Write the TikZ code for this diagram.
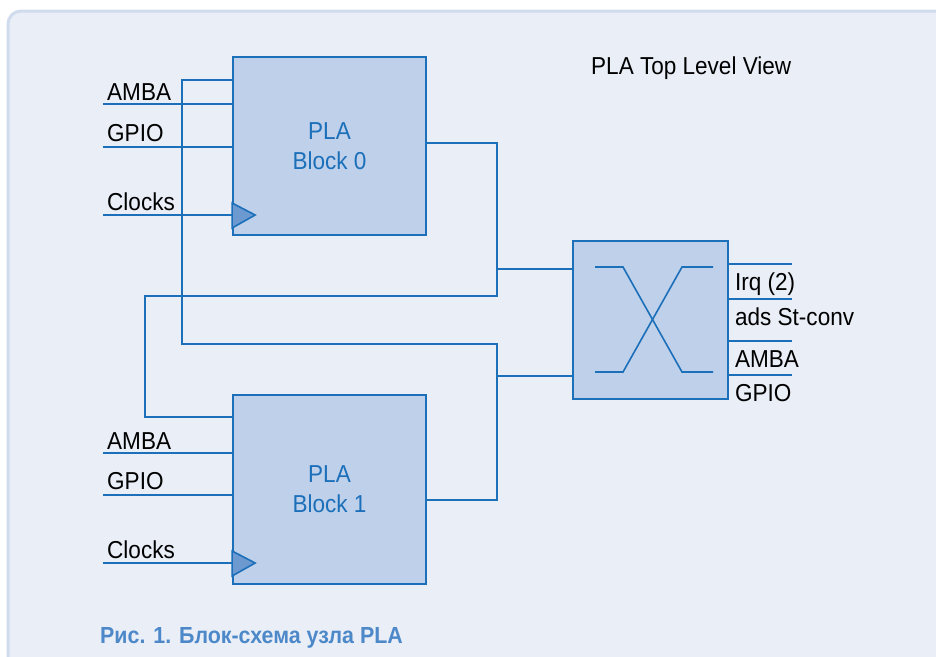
\documentclass[tikz,border=0pt]{standalone}
\usepackage{fontspec}
\setmainfont{Liberation Sans}[FakeStretch=0.92]
\usetikzlibrary{positioning,calc}
\definecolor{panelbg}{HTML}{E9EEF7}
\definecolor{panelrim}{HTML}{D0DBEE}
\definecolor{blkfill}{HTML}{BED0EA}
\definecolor{wireblue}{HTML}{1C6FB9}
\definecolor{clkfill}{HTML}{6C9AD0}
\definecolor{capblue}{HTML}{4D88C9}
\tikzset{
  wire/.style={draw=wireblue,line width=1.8pt},
  plablock/.style={
    rectangle,
    draw=wireblue,
    line width=1.8pt,
    fill=blkfill,
    minimum width=193pt,
    minimum height=178pt,
    align=center,
    text=wireblue,
    font=\fontsize{24.5}{30}\selectfont
  },
  muxbox/.style={
    rectangle,
    draw=wireblue,
    line width=1.8pt,
    fill=blkfill,
    minimum width=155pt,
    minimum height=158pt
  },
  lbl/.style={
    anchor=base west,
    inner sep=0pt,
    text=black,
    font=\fontsize{24.5}{28}\selectfont
  }
}

\begin{document}
\begin{tikzpicture}[x=1pt,y=-1pt,>=latex]
\useasboundingbox (0,0) rectangle (936,656);
\clip (0,0) rectangle (936,656);
\fill[white] (0,0) rectangle (936,656);
\draw[panelrim,fill=panelbg,line width=3pt,rounded corners=13pt]
  (8,11) rectangle (990,720);

\node[plablock] (blk0) at (329.5,146) {PLA\\Block 0};
\node[plablock,minimum height=189pt] (blk1) at (329.5,489.5) {PLA\\Block 1};
\node[muxbox] (mux) at (650.5,320) {};

\node[lbl] (title) at (591,74) {PLA Top Level View};

% inputs of both blocks
\foreach \b/\ya/\yg/\yc in {0/104/147/215, 1/453/495/563}{
  \coordinate (amba\b) at (103,\ya);
  \coordinate (gpio\b) at (103,\yg);
  \coordinate (clk\b) at (103,\yc);
  \node[lbl] at ($(amba\b)+(4,-4)$) {AMBA};
  \node[lbl] at ($(gpio\b)+(4,-6)$) {GPIO};
  \node[lbl] at ($(clk\b)+(4,-5)$) {Clocks};
  \draw[wire] (amba\b) -- (amba\b -| blk\b.west);
  \draw[wire] (gpio\b) -- (gpio\b -| blk\b.west);
  \draw[wire] (clk\b) -- (clk\b -| blk\b.west);
  \draw[draw=wireblue,line width=1.6pt,fill=clkfill,line join=miter]
    ($(clk\b -| blk\b.west)+(0,-12)$) -- ($(clk\b -| blk\b.west)+(23,0)$)
    -- ($(clk\b -| blk\b.west)+(0,13)$) -- cycle;
}

% cross connections
\coordinate (busA) at (182,344);
\coordinate (busB) at (145,296);
\coordinate (jB) at (497,269);
\coordinate (jA) at (497,376);

\draw[wire] ([yshift=3pt]blk0.east) -| (jB) |- (busB)
  |- ([yshift=-23pt]blk1.north west);
\draw[wire] (jB) -- (jB -| mux.west);
\draw[wire] ([yshift=-24pt]blk0.north west) -| (busA) -| (jA)
  |- ([yshift=-10.5pt]blk1.east);
\draw[wire] (jA) -- (jA -| mux.west);

% crossing inside the switch
\draw[wire,line width=1.6pt] (595,267) -- (623,267) -- (682,372) -- (713,372);
\draw[wire,line width=1.6pt] (595,372) -- (623,372) -- (682,267) -- (713,267);

% outputs
\foreach \y/\txt in {264/Irq (2), 299/ads St-conv, 341/AMBA, 375/GPIO}{
  \coordinate (out) at (792,\y);
  \draw[wire] (out -| mux.east) -- (out);
  \node[lbl] at ($(out -| mux.east)+(6,26)$) {\txt};
}

\node[lbl,text=capblue,font=\fontsize{23.25}{28}\selectfont\bfseries] (caption)
  at (100,643) {Рис. 1. Блок-схема узла PLA};
\end{tikzpicture}
\end{document}
